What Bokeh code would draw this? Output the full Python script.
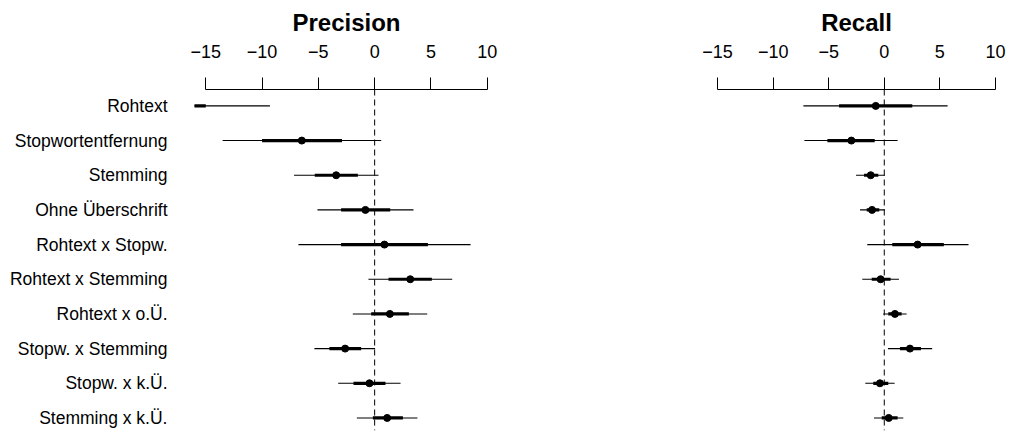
from bokeh.plotting import figure
from bokeh.models import Range1d, FixedTicker, Span, ColumnDataSource
from bokeh.layouts import row
from bokeh.embed import file_html
from bokeh.resources import INLINE

labels = ["Rohtext", "Stopwortentfernung", "Stemming", "Ohne Überschrift",
          "Rohtext x Stopw.", "Rohtext x Stemming", "Rohtext x o.Ü.",
          "Stopw. x Stemming", "Stopw. x k.Ü.", "Stemming x k.Ü."]
rows = list(range(1, len(labels) + 1))

prec_est = [-20.7, -6.47, -3.42, -0.82, 0.87, 3.16, 1.35, -2.62, -0.46, 1.11]
prec_lo50 = [-26.4, -10.0, -5.32, -2.98, -2.98, 1.23, -0.31, -4.02, -1.88, -0.16]
prec_hi50 = [-15.0, -2.9, -1.49, 1.38, 4.73, 5.08, 3.04, -1.2, 0.96, 2.51]
prec_lo95 = [-32.1, -13.5, -7.16, -5.08, -6.77, -0.55, -1.94, -5.35, -3.24, -1.58]
prec_hi95 = [-9.3, 0.58, 0.34, 3.45, 8.52, 6.89, 4.67, 0.04, 2.3, 3.8]

rec_est = [-0.77, -2.96, -1.22, -1.1, 3.0, -0.33, 0.96, 2.31, -0.39, 0.4]
rec_lo50 = [-4.07, -5.12, -1.82, -1.58, 0.72, -1.13, 0.36, 1.41, -0.99, -0.23]
rec_hi50 = [2.52, -0.86, -0.54, -0.45, 5.36, 0.57, 1.56, 3.3, 0.36, 1.2]
rec_lo95 = [-7.28, -7.19, -2.54, -2.18, -1.53, -1.98, -0.09, 0.33, -1.71, -0.93]
rec_hi95 = [5.7, 1.2, 0.06, 0.06, 7.58, 1.32, 2.01, 4.31, 0.93, 1.71]

x_ticks = [-15, -10, -5, 0, 5, 10]
x_tick_labels = ["\u221215", "\u221210", "\u22125", "0", "5", "10"]

FONT = "Liberation Sans"


def panel(title, est, lo50, hi50, lo95, hi95, width, bl, br, with_labels):
    p = figure(width=width, height=432, output_backend="svg", toolbar_location=None,
               x_range=Range1d(-16, 11), y_range=Range1d(10.362, 0.527),
               x_axis_location="above",
               y_axis_location="left" if with_labels else None,
               min_border_left=bl, min_border_right=br,
               min_border_top=89, min_border_bottom=2,
               title=title)
    p.outline_line_color = None
    p.grid.visible = False
    p.background_fill_color = "white"
    p.border_fill_color = "white"

    p.title.align = "center"
    p.title.text_font = FONT
    p.title.text_font_size = "24px"
    p.title.text_font_style = "bold"
    p.title.text_color = "black"
    p.title.standoff = 12

    ax = p.xaxis[0]
    ax.ticker = FixedTicker(ticks=x_ticks)
    ax.bounds = (x_ticks[0], x_ticks[-1])
    ax.major_label_overrides = {t: l for t, l in zip(x_ticks, x_tick_labels)}
    ax.major_tick_out = 12
    ax.major_tick_in = 0
    ax.minor_tick_line_color = None
    ax.major_label_standoff = 20
    ax.major_label_text_font = FONT
    ax.major_label_text_font_size = "18px"
    ax.major_label_text_color = "black"
    ax.axis_line_color = "black"
    ax.major_tick_line_color = "black"
    ax.axis_line_width = 1

    if with_labels:
        ya = p.yaxis[0]
        ya.ticker = FixedTicker(ticks=rows)
        ya.major_label_overrides = {r: l for r, l in zip(rows, labels)}
        ya.axis_line_color = None
        ya.major_tick_line_color = None
        ya.minor_tick_line_color = None
        ya.major_tick_out = 0
        ya.major_tick_in = 0
        ya.major_label_standoff = 27
        ya.major_label_text_font = FONT
        ya.major_label_text_font_size = "17.5px"
        ya.major_label_text_color = "black"

    p.add_layout(Span(location=0, dimension="height", line_color="black",
                      line_width=1, line_dash="6 4"))

    src = ColumnDataSource(dict(y=rows, est=est, lo50=lo50, hi50=hi50,
                                lo95=lo95, hi95=hi95))
    p.segment(x0="lo95", y0="y", x1="hi95", y1="y", source=src,
              line_color="black", line_width=1.1)
    p.segment(x0="lo50", y0="y", x1="hi50", y1="y", source=src,
              line_color="black", line_width=3.2)
    p.scatter(x="est", y="y", source=src, size=7, fill_color="black",
              line_color="black")
    return p


p1 = panel("Precision", prec_est, prec_lo50, prec_hi50, prec_lo95, prec_hi95,
           510, 194, 12, True)
p2 = panel("Recall", rec_est, rec_lo50, rec_hi50, rec_lo95, rec_hi95,
           500, 196, 4, False)

layout = row(p1, p2)
open("out.html", "w").write(file_html(layout, INLINE))
